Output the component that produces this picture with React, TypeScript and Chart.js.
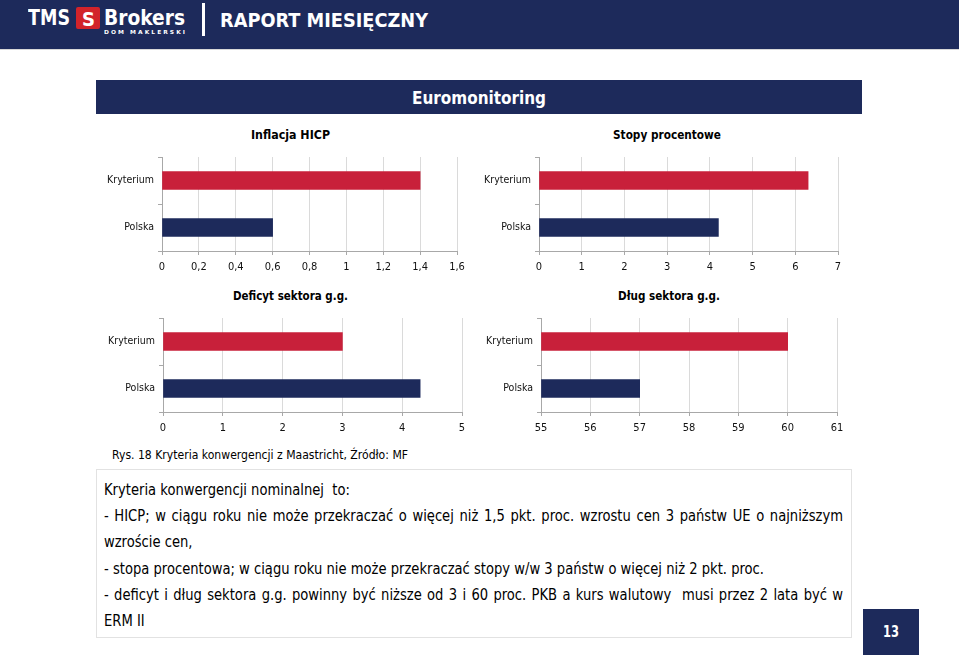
import React, { useEffect, useRef } from 'react';
import { Chart, registerables } from 'chart.js';

Chart.register(...registerables);

// ---------- data ----------
const categories = ['Kryterium', 'Polska'];
const hicpValues = [1.4, 0.6];
const stopyValues = [6.3, 4.2];
const deficytValues = [3, 4.3];
const dlugValues = [60, 57];

const hicpTickLabels = ['0', '0,2', '0,4', '0,6', '0,8', '1', '1,2', '1,4', '1,6'];
const stopyTickLabels = ['0', '1', '2', '3', '4', '5', '6', '7'];
const deficytTickLabels = ['0', '1', '2', '3', '4', '5'];
const dlugTickLabels = ['55', '56', '57', '58', '59', '60', '61'];

const bodyLines = [
  'Kryteria konwergencji nominalnej  to:',
  '- HICP; w ciągu roku nie może przekraczać o więcej niż 1,5 pkt. proc. wzrostu cen 3 państw UE o najniższym',
  'wzroście cen,',
  '- stopa procentowa; w ciągu roku nie może przekraczać stopy w/w 3 państw o więcej niż 2 pkt. proc.',
  '- deficyt i dług sektora g.g. powinny być niższe od 3 i 60 proc. PKB a kurs walutowy  musi przez 2 lata być w',
  'ERM II',
];

// ---------- styles ----------
const RED = '#c8203a';
const NAVY = '#1d2a5b';
const FAM = '"DejaVu Sans", sans-serif';
const TICK_FAM = '"DejaVu Sans Condensed", "DejaVu Sans", sans-serif';

const measureCanvas = document.createElement('canvas');
const mctx = measureCanvas.getContext('2d') as CanvasRenderingContext2D;
function measure(text: string, font: string) {
  mctx.font = font;
  return mctx.measureText(text).width;
}

type TxtProps = {
  text: string;
  x: number;
  x2?: number;
  cy: number;
  size: number;
  weight?: number;
  color?: string;
  scale?: number;
  justify?: boolean;
};

function Txt({ text, x, x2, cy, size, weight = 400, color = '#000', scale, justify }: TxtProps) {
  const font = `${weight} ${size}px ${FAM}`;
  const w = measure(text, font);
  let s = scale ?? ((x2 as number) - x) / w;
  let wordSpacing = 0;
  if (justify && x2 !== undefined) {
    const spaces = text.split(' ').length - 1;
    wordSpacing = ((x2 - x) / s - w) / Math.max(spaces, 1);
  }
  return (
    <div
      style={{
        position: 'absolute',
        left: x,
        top: cy - size * 0.6,
        font,
        lineHeight: `${size * 1.2}px`,
        whiteSpace: 'pre',
        color,
        wordSpacing: `${wordSpacing}px`,
        transform: `scaleX(${s})`,
        transformOrigin: '0 50%',
      }}
    >
      {text}
    </div>
  );
}

type PanelProps = {
  values: number[];
  tickLabels: string[];
  min: number;
  max: number;
  step: number;
  axisX: number;
  rightX: number;
  plotTop: number;
  plotBottom: number;
};

function BarPanel({ values, tickLabels, min, max, step, axisX, rightX, plotTop, plotBottom }: PanelProps) {
  const ref = useRef<HTMLCanvasElement>(null);
  const leftW = 62;
  const rightPad = 18;
  const topPad = 6;
  const bottomH = 26;
  const canvasLeft = axisX - leftW;
  const width = rightX - canvasLeft + rightPad;
  const canvasTop = plotTop - topPad;
  const height = plotBottom - canvasTop + bottomH;

  useEffect(() => {
    const chart = new Chart(ref.current as HTMLCanvasElement, {
      type: 'bar',
      data: {
        labels: categories,
        datasets: [
          {
            data: values,
            backgroundColor: [RED, NAVY],
            barThickness: 18,
            base: min,
            borderWidth: 0,
          } as any,
        ],
      },
      options: {
        indexAxis: 'y',
        responsive: false,
        maintainAspectRatio: false,
        animation: false,
        layout: { padding: { top: topPad, right: rightPad, left: 0, bottom: 0 } },
        plugins: { legend: { display: false }, tooltip: { enabled: false } },
        scales: {
          x: {
            type: 'linear',
            min,
            max,
            ticks: {
              stepSize: step,
              autoSkip: false,
              maxRotation: 0,
              padding: 6,
              color: '#111',
              font: { family: TICK_FAM, size: 11 },
              callback: (_v: any, i: number) => tickLabels[i],
            },
            grid: { color: '#dadada', tickColor: '#a8a8a8', tickLength: 4, lineWidth: 1 },
            border: { color: '#a8a8a8' },
            afterFit: (s: any) => {
              s.height = bottomH;
              s.paddingLeft = 0;
              s.paddingRight = 0;
            },
          },
          y: {
            type: 'category',
            ticks: {
              padding: 4,
              color: '#111',
              font: { family: TICK_FAM, size: 10.5 },
            },
            grid: { offset: true, drawOnChartArea: false, color: '#a8a8a8', tickLength: 4 },
            border: { color: '#a8a8a8' },
            afterFit: (s: any) => {
              s.width = leftW;
              s.paddingTop = 0;
              s.paddingBottom = 0;
            },
          },
        },
      } as any,
    });
    return () => chart.destroy();
  }, []);

  return (
    <canvas
      ref={ref}
      width={width}
      height={height}
      style={{ position: 'absolute', left: canvasLeft, top: canvasTop, width, height, display: 'block' }}
    />
  );
}

export default function App() {
  const bodySize = 15;
  const bodyFont = `400 ${bodySize}px ${FAM}`;
  const bodyScale = (764 - 104) / measure(bodyLines[3], bodyFont);

  return (
    <div style={{ position: 'absolute', left: 0, top: 0, width: 959, height: 655, background: '#fff', overflow: 'hidden' }}>
      {/* header */}
      <div style={{ position: 'absolute', left: 0, top: 0, width: 959, height: 49, background: NAVY }} />
      <div style={{ position: 'absolute', left: 0, top: 49, width: 959, height: 1, background: '#d8d8d8' }} />
      <Txt text="TMS" x={28} x2={70} cy={18.5} size={22} weight={700} color="#fff" />
      <div style={{ position: 'absolute', left: 76, top: 7, width: 24, height: 22, background: '#d2232a', borderRadius: 2 }} />
      <Txt text="S" x={82} x2={95} cy={18.5} size={20} weight={700} color="#fff" />
      <Txt text="Brokers" x={104} x2={185} cy={18.5} size={22} weight={700} color="#fff" />
      <Txt text="D O M   M A K L E R S K I" x={104} x2={185} cy={32.5} size={5.5} weight={700} color="#fff" />
      <div style={{ position: 'absolute', left: 202, top: 3, width: 3, height: 33, background: '#fff' }} />
      <Txt text="RAPORT MIESIĘCZNY" x={220} x2={428} cy={20} size={20} weight={700} color="#fff" />

      {/* Euromonitoring bar */}
      <div style={{ position: 'absolute', left: 96, top: 80, width: 766, height: 34, background: NAVY }} />
      <Txt text="Euromonitoring" x={412} x2={546} cy={98} size={17} weight={700} color="#fff" />

      {/* chart titles */}
      <Txt text="Inflacja HICP" x={251} x2={330} cy={136} size={11.5} weight={700} />
      <Txt text="Stopy procentowe" x={613} x2={721} cy={136} size={11.5} weight={700} />
      <Txt text="Deficyt sektora g.g." x={233} x2={348} cy={296.5} size={11.5} weight={700} />
      <Txt text="Dług sektora g.g." x={618} x2={720} cy={296.5} size={11.5} weight={700} />

      <BarPanel values={hicpValues} tickLabels={hicpTickLabels} min={0} max={1.6} step={0.2} axisX={162} rightX={457} plotTop={157} plotBottom={251} />
      <BarPanel values={stopyValues} tickLabels={stopyTickLabels} min={0} max={7} step={1} axisX={539} rightX={838} plotTop={157} plotBottom={251} />
      <BarPanel values={deficytValues} tickLabels={deficytTickLabels} min={0} max={5} step={1} axisX={163} rightX={462} plotTop={318} plotBottom={412} />
      <BarPanel values={dlugValues} tickLabels={dlugTickLabels} min={55} max={61} step={1} axisX={541} rightX={837} plotTop={318} plotBottom={412} />

      {/* caption */}
      <Txt text="Rys. 18 Kryteria konwergencji z Maastricht, Źródło: MF" x={112} x2={408} cy={455} size={12} />

      {/* text box */}
      <div style={{ position: 'absolute', left: 96, top: 469, width: 756, height: 169, border: '1px solid #e2e2e2', boxSizing: 'border-box' }} />
      <Txt text={bodyLines[0]} x={104} cy={490} size={bodySize} scale={bodyScale} />
      <Txt text={bodyLines[1]} x={104} x2={843} cy={516} size={bodySize} scale={bodyScale} justify />
      <Txt text={bodyLines[2]} x={104} cy={542} size={bodySize} scale={bodyScale} />
      <Txt text={bodyLines[3]} x={104} cy={569} size={bodySize} scale={bodyScale} />
      <Txt text={bodyLines[4]} x={104} x2={843} cy={595} size={bodySize} scale={bodyScale} justify />
      <Txt text={bodyLines[5]} x={104} cy={621} size={bodySize} scale={bodyScale} />

      {/* page number */}
      <div style={{ position: 'absolute', left: 863, top: 609, width: 56, height: 46, background: NAVY }} />
      <Txt text="13" x={883} x2={899} cy={631.5} size={15} weight={700} color="#fff" />
    </div>
  );
}
